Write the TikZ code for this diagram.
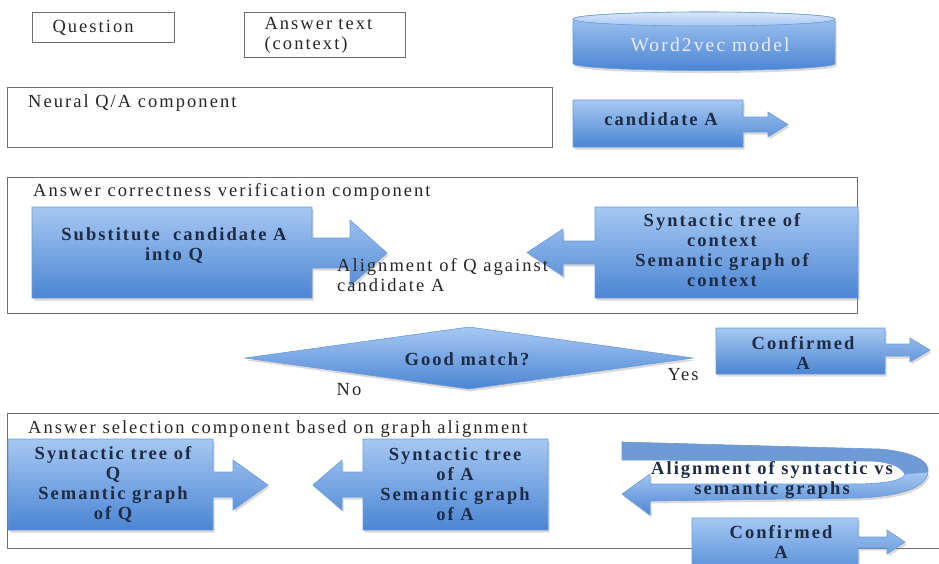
\documentclass[tikz,border=0pt]{standalone}
\usepackage{fontspec}
\setmainfont{Liberation Serif}[LetterSpace=11]
\usetikzlibrary{positioning,calc,shadows,shapes.geometric}

\definecolor{boxtop}{HTML}{A6C8F2}
\definecolor{boxbot}{HTML}{4B85D3}
\definecolor{boxedge}{HTML}{6D9AD8}
\definecolor{backband}{HTML}{6E9AD6}
\definecolor{navy}{HTML}{1E2B45}
\definecolor{framegray}{HTML}{6E6E6E}
\definecolor{lidtop}{HTML}{D6E6FA}

\tikzset{
  frame/.style={draw=framegray, line width=1.1pt},
  blockfill/.style={top color=boxtop, bottom color=boxbot, draw=boxedge, line width=0.6pt,
    drop shadow={shadow xshift=1.5pt, shadow yshift=-2.5pt, opacity=0.3}},
  plainlabel/.style={font=\fontsize{18.5}{20}\selectfont, text=black!85, inner sep=0pt},
  boldlabel/.style={font=\fontsize{18.5}{20}\selectfont\bfseries, text=navy, align=center, inner sep=0pt},
  inputbox/.style={frame, plainlabel, anchor=north west, inner xsep=20pt, inner ysep=0pt, align=left}
}

\begin{document}
\begin{tikzpicture}[x=1pt, y=-1pt]
    \useasboundingbox (0,0) rectangle (939,563);

    % Eingaben
    \node[inputbox, text width=102pt, minimum height=30pt] (question) at (32,12) {Question};
    \node[inputbox, text width=121pt, minimum height=45pt] (answertext) at (244,12) {Answer text\\(context)};

    % Word2vec-Zylinder
    \path[blockfill] (573,19) -- (573,63.5) arc[start angle=180, end angle=0, x radius=131, y radius=7]
        -- (835,19) arc[start angle=0, end angle=-180, x radius=131, y radius=7] -- cycle;
    \path[top color=lidtop, bottom color=boxtop, draw=boxedge, line width=0.6pt] (704,19) ellipse[x radius=131, y radius=7];
    \node[plainlabel, text=white!92!blue, font=\fontsize{19.5}{20}\selectfont] (w2v) at (710,45) {Word2vec model};

    % Neural Q/A
    \node[frame, anchor=north west, minimum width=545pt, minimum height=60pt] (neural) at (7,87) {};
    \node[plainlabel, anchor=west] (neuraltxt) at (28,103) {Neural Q/A component};
    \path[blockfill] (573,100) -- (743,100) -- (743,117) -- (768,117) -- (768,112) -- (788,124.5)
        -- (768,137) -- (768,132) -- (743,132) -- (743,147) -- (573,147) -- cycle;
    \node[boldlabel] (candA) at (661,119) {candidate A};

    % Verifikation
    \node[frame, anchor=north west, minimum width=850pt, minimum height=136pt] (verify) at (7,177) {};
    \node[plainlabel, anchor=west] (verifytxt) at (33,192) {Answer correctness verification component};
    \path[blockfill] (32,207) -- (312,207) -- (312,238) -- (350,238) -- (350,220) -- (387,253)
        -- (350,286) -- (350,268) -- (312,268) -- (312,298) -- (32,298) -- cycle;
    \node[boldlabel] (subst) at (174,246) {Substitute\ \ candidate A\\into Q};
    \path[blockfill] (595,207) -- (858,207) -- (858,298) -- (595,298) -- (595,264) -- (563,264)
        -- (563,276) -- (527,252.5) -- (563,229) -- (563,241) -- (595,241) -- cycle;
    \node[boldlabel] (context) at (722,250) {Syntactic tree of\\context\\Semantic graph of\\context};
    \node[plainlabel, anchor=north west, align=left] (alignQ) at (337,258) {Alignment of Q against\\candidate A};

    % Entscheidung
    \path[blockfill] (245,358) -- (469,327) -- (693,358) -- (469,389) -- cycle;
    \node[boldlabel] (match) at (467,359) {Good match?};
    \node[plainlabel] (no) at (349,390) {No};
    \node[plainlabel] (yes) at (683,375) {Yes};
    \path[blockfill] (716,328) -- (885,328) -- (885,344) -- (910,344) -- (910,338) -- (930,350)
        -- (910,362) -- (910,356) -- (885,356) -- (885,374) -- (716,374) -- cycle;
    \node[boldlabel] (confirm1) at (803,353) {Confirmed\\A};

    % Auswahl
    \node[frame, anchor=north west, minimum width=945pt, minimum height=135pt] (select) at (7,413) {};
    \node[plainlabel, anchor=west] (selecttxt) at (28,429) {Answer selection component based on graph alignment};
    \path[blockfill] (8,439) -- (213,439) -- (213,472) -- (233,472) -- (233,460) -- (268,485)
        -- (233,510) -- (233,497) -- (213,497) -- (213,530) -- (8,530) -- cycle;
    \node[boldlabel] (treeQ) at (113,484) {Syntactic tree of\\Q\\Semantic graph\\of Q};
    \path[blockfill] (363,439) -- (548,439) -- (548,530) -- (363,530) -- (363,497) -- (342,497)
        -- (342,510) -- (313,485) -- (342,460) -- (342,472) -- (363,472) -- cycle;
    \node[boldlabel] (treeA) at (455,484) {Syntactic tree\\of A\\Semantic graph\\of A};

    % Schleifenpfeil
    \path[fill=backband, draw=boxedge, line width=0.6pt] (622,442) -- (880,449)
        .. controls (915,452) and (930,462) .. (928,472) -- (905,474)
        .. controls (900,466) and (890,462) .. (870,461) -- (622,460) -- cycle;
    \path[blockfill] (928,472) .. controls (926,488) and (900,496) .. (860,498) -- (650,501)
        -- (650,515) -- (622,494) -- (650,474) -- (650,484) -- (860,484)
        .. controls (890,483) and (903,480) .. (905,474) -- cycle;
    \node[boldlabel] (alignSS) at (772,480) {Alignment of syntactic vs\\semantic graphs};
    \path[blockfill] (692,518) -- (858,518) -- (858,537) -- (887,537) -- (887,530) -- (905,542)
        -- (887,554) -- (887,548) -- (858,548) -- (858,580) -- (692,580) -- cycle;
    \node[boldlabel] (confirm2) at (781,542) {Confirmed\\A};
\end{tikzpicture}
\end{document}
